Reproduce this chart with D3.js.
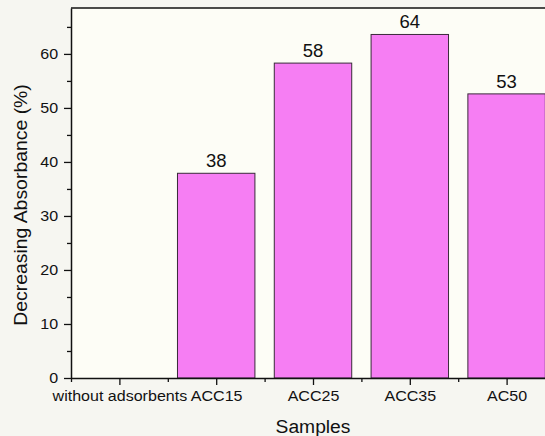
<!DOCTYPE html>
<html>
<head>
<meta charset="utf-8">
<script src="https://cdn.jsdelivr.net/npm/d3@7"></script>
<style>
  body { margin: 0; background: #f6f6f1; }
  svg { display: block; font-family: "Liberation Sans", Arial, sans-serif; }
</style>
</head>
<body>
<div id="wrapper"></div>
<script>
// data
const categories = ["without adsorbents", "ACC15", "ACC25", "ACC35", "AC50"]
const decrease = [0, 37.9, 58.3, 63.6, 52.6]
const yTicks = [0, 10, 20, 30, 40, 50, 60]

function drawChart() {
  const dimensions = {
    width: 545,
    height: 436,
    margin: { top: 8, left: 71, bottom: 58 },
  }
  const x0 = dimensions.margin.left
  const x1 = x0 + 5 * 96.8          // plot runs past the right edge, like the crop
  const yBottom = dimensions.height - dimensions.margin.bottom
  const yTop = dimensions.margin.top

  const wrapper = d3.select("#wrapper")
    .append("svg")
    .attr("width", dimensions.width)
    .attr("height", dimensions.height)

  // scales
  const xBand = d3.scaleBand()
    .domain(categories)
    .range([x0, x1])
    .paddingInner(0.2)
    .paddingOuter(0.1)

  const xLin = d3.scaleLinear()
    .domain([0.5, 5.5])
    .range([x0, x1])

  const yScale = d3.scaleLinear()
    .domain([0, 68.5])
    .range([yBottom, yTop])

  // plot background
  wrapper.append("rect")
    .attr("x", x0).attr("y", yTop)
    .attr("width", x1 - x0).attr("height", yBottom - yTop)
    .attr("fill", "#fdfdf6")

  // bars
  const bars = categories.map((c, i) => ({ cat: c, value: decrease[i] }))
  wrapper.selectAll(".bar")
    .data(bars.filter(d => d.value > 0))
    .enter().append("rect")
      .attr("class", "bar")
      .attr("x", d => xBand(d.cat))
      .attr("y", d => yScale(d.value))
      .attr("width", xBand.bandwidth())
      .attr("height", d => yBottom - yScale(d.value))
      .attr("fill", "#f67ef3")
      .attr("stroke", "#3a2a3a")
      .attr("stroke-width", 1)

  const fmt = d3.format(".0f")
  wrapper.selectAll(".val")
    .data(bars.filter(d => d.value > 0))
    .enter().append("text")
      .attr("class", "val")
      .attr("x", d => xBand(d.cat) + xBand.bandwidth() / 2)
      .attr("y", d => yScale(d.value) - 6)
      .attr("text-anchor", "middle")
      .attr("font-size", 18.5)
      .attr("fill", "#111")
      .text(d => fmt(d.value))

  // y axis, minor then major
  wrapper.append("g")
    .attr("transform", `translate(${x0},0)`)
    .call(d3.axisLeft(yScale).tickValues(d3.range(5, 70, 10)).tickSize(4).tickFormat(""))
    .call(g => g.select(".domain").remove())
  const yAxis = wrapper.append("g")
    .attr("transform", `translate(${x0},0)`)
    .call(d3.axisLeft(yScale).tickValues(yTicks).tickSize(7).tickPadding(5).tickSizeOuter(0))
  yAxis.selectAll("text")
    .attr("font-size", 15)
    .attr("fill", "#111")
    .attr("transform", "scale(1.07,1)")

  // x axis, minor then major
  wrapper.append("g")
    .attr("transform", `translate(0,${yBottom})`)
    .call(d3.axisBottom(xLin).tickValues(d3.range(0.5, 6, 1)).tickSize(4).tickFormat(""))
    .call(g => g.select(".domain").remove())
  const xAxis = wrapper.append("g")
    .attr("transform", `translate(0,${yBottom})`)
    .call(d3.axisBottom(xLin).tickValues([1, 2, 3, 4, 5]).tickSize(7).tickPadding(5).tickSizeOuter(0)
      .tickFormat(i => categories[i - 1]))
  xAxis.selectAll("text")
    .attr("font-size", 15)
    .attr("fill", "#111")
    .attr("transform", "scale(1.07,1)")

  wrapper.selectAll(".domain").attr("stroke", "#111").attr("stroke-width", 1.5)
  wrapper.selectAll(".tick line").attr("stroke", "#111").attr("stroke-width", 1.3)

  // top frame
  wrapper.append("line")
    .attr("x1", x0).attr("x2", x1)
    .attr("y1", yTop).attr("y2", yTop)
    .attr("stroke", "#111").attr("stroke-width", 1.5)

  // axis titles
  wrapper.append("text")
    .attr("transform", `translate(313,433) scale(1.07,1)`)
    .attr("text-anchor", "middle")
    .attr("font-size", 18)
    .attr("fill", "#111")
    .text("Samples")

  wrapper.append("text")
    .attr("transform", `translate(27,205) rotate(-90) scale(1.05,1)`)
    .attr("text-anchor", "middle")
    .attr("font-size", 18.5)
    .attr("fill", "#111")
    .text("Decreasing Absorbance (%)")
}

drawChart()
</script>
</body>
</html>
